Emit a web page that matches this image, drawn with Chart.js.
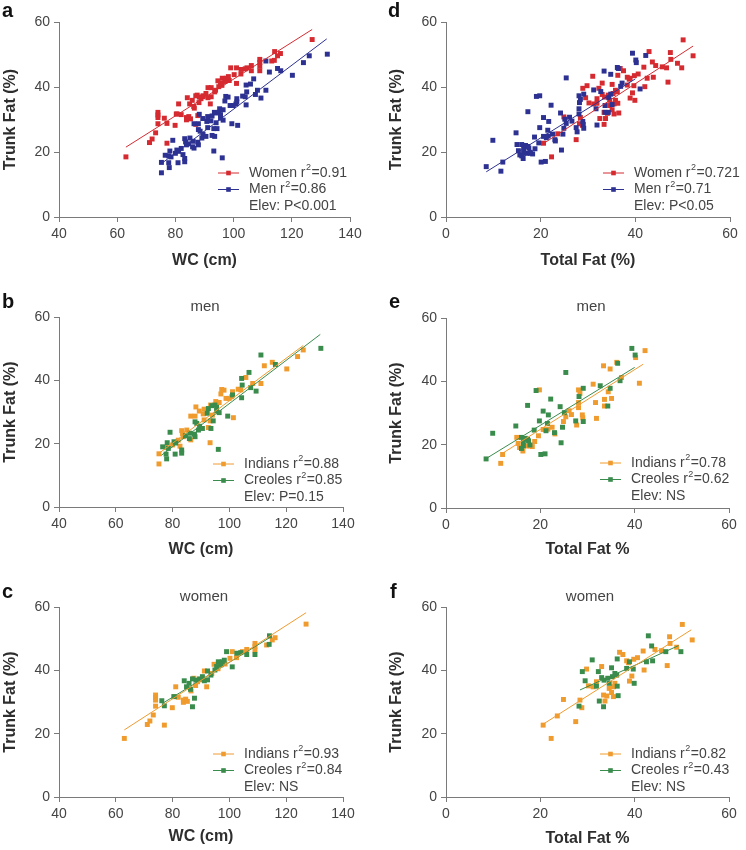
<!DOCTYPE html>
<html>
<head>
<meta charset="utf-8">
<script src="https://cdn.jsdelivr.net/npm/chart.js@4/dist/chart.umd.min.js"></script>
<style>
  body { margin: 0; background: #fff; }
  #wrap { position: relative; width: 746px; height: 850px; background: #fff; }
  canvas { position: absolute; }
</style>
</head>
<body>
<div id="wrap">
  <canvas id="pa" width="373" height="280" style="left:0;top:0"></canvas>
  <canvas id="pd" width="373" height="280" style="left:373px;top:0"></canvas>
  <canvas id="pb" width="373" height="280" style="left:0;top:280px"></canvas>
  <canvas id="pe" width="373" height="280" style="left:373px;top:280px"></canvas>
  <canvas id="pc" width="373" height="290" style="left:0;top:560px"></canvas>
  <canvas id="pf" width="373" height="290" style="left:373px;top:560px"></canvas>
</div>
<script>
// tick values
var wcTicks = [40, 60, 80, 100, 120, 140];
var totalFatTicks = [0, 20, 40, 60];
var trunkFatTicks = [0, 20, 40, 60];

// men, WC vs trunk fat
var menIndiansWC = [[75.2,13.6],[75.2,16.8],[77.7,18.8],[80.0,19.6],[82.0,21.1],[82.6,19.2],[83.2,24.1],[83.5,23.1],
  [83.8,22.2],[85.0,24.3],[86.4,21.2],[86.4,28.7],[87.9,28.7],[88.2,31.6],[89.4,30.3],[90.8,29.4],[91.1,30.9],
  [91.1,27.5],[92.6,25.1],[93.2,27.2],[93.2,20.3],[93.4,32.2],[94.0,29.0],[95.2,33.3],[96.4,33.0],[97.0,35.7],
  [97.3,37.1],[98.1,36.9],[98.8,34.3],[99.9,34.3],[100.8,34.8],[101.1,36.4],[101.4,28.2],[103.1,37.2],[104.0,37.0],
  [105.8,40.9],[108.2,39.0],[111.1,39.0],[112.3,44.6],[115.1,45.7],[120.2,43.6],[124.0,47.5],[126.0,49.6]];
var menCreolesWC = [[76.5,19.0],[77.7,16.7],[77.9,15.2],[78.1,20.3],[78.5,18.5],[79.1,23.6],[80.5,20.6],[80.9,16.7],
  [81.1,20.2],[83.2,18.0],[83.2,17.0],[84.5,22.5],[85.9,21.6],[86.1,23.3],[87.7,23.0],[87.9,22.2],[87.9,26.9],
  [88.5,26.4],[89.1,24.3],[89.5,25.5],[90.5,24.8],[92.2,29.6],[92.6,31.1],[93.5,24.8],[93.8,32.0],[94.3,27.2],
  [94.9,32.2],[95.5,30.4],[95.5,31.5],[96.4,29.8],[96.1,18.2],[99.4,28.7],[101.1,35.4],[104.3,34.5],[104.3,40.6],
  [104.5,38.5],[106.9,42.5],[107.5,37.7],[109.4,36.6],[111.1,48.0],[116.2,45.0],[132.2,50.1]];

// women, WC vs trunk fat
var womenIndiansWC = [[63.0,18.5],[71.1,22.9],[72.0,24.0],[73.2,25.9],[74.0,28.7],[74.0,30.6],[74.0,31.4],[74.0,32.2],
  [77.1,22.7],[79.9,28.2],[80.3,31.7],[81.1,34.8],[82.0,31.5],[83.8,30.6],[83.8,29.9],[84.6,30.9],[85.2,30.2],
  [86.5,33.5],[87.5,37.5],[88.1,35.2],[88.8,36.4],[89.5,37.0],[91.2,39.8],[92.0,34.8],[93.8,39.0],[94.6,41.9],
  [96.0,40.5],[98.5,42.0],[100.2,43.8],[101.0,45.9],[102.5,44.0],[104.6,45.9],[106.1,46.6],[109.0,48.5],[109.0,47.5],
  [109.0,46.4],[113.1,48.0],[115.1,49.6],[116.1,50.3],[127.0,54.6]];
var womenCreolesWC = [[76.2,30.4],[77.1,28.8],[80.6,31.7],[84.1,36.7],[84.9,34.8],[85.8,35.9],[86.3,34.0],[87.0,37.3],
  [87.0,28.5],[87.7,31.2],[88.2,36.9],[89.5,37.3],[90.5,38.0],[91.2,36.7],[92.3,37.0],[92.3,39.8],[93.5,38.5],
  [94.9,40.1],[95.5,41.2],[96.1,42.7],[97.0,41.7],[97.5,42.7],[98.2,43.2],[99.0,45.9],[101.0,41.1],[102.6,45.4],
  [104.0,45.6],[106.1,45.0],[109.0,45.0],[114.0,48.2],[114.1,50.9]];

// men, total fat vs trunk fat
var menIndiansTF = [[11.6,14.1],[12.0,16.9],[15.0,22.3],[15.3,20.4],[15.6,19.1],[16.3,18.0],[17.1,19.6],[17.8,19.6],
  [18.3,19.4],[18.8,21.0],[19.8,37.3],[19.6,22.8],[20.6,24.8],[21.6,24.9],[22.5,25.5],[23.1,23.4],[24.9,27.3],
  [25.4,28.8],[26.1,30.7],[26.6,29.5],[27.7,26.2],[28.1,37.3],[28.4,36.2],[28.1,33.3],[28.1,31.7],[28.9,29.4],
  [29.0,28.5],[31.2,39.1],[31.9,28.3],[31.7,33.3],[33.4,44.9],[33.6,34.3],[33.6,32.2],[34.4,36.7],[34.8,43.9],
  [35.1,34.6],[36.2,46.0],[37.2,41.2],[40.2,47.5],[41.0,39.4],[42.2,49.7]];
var menCreolesTF = [[8.5,15.5],[9.9,23.6],[14.8,25.9],[16.0,22.3],[16.8,22.0],[17.3,21.7],[16.4,20.9],[17.5,21.2],
  [16.4,19.6],[16.0,18.8],[17.8,19.9],[17.3,32.4],[18.7,24.6],[19.1,37.1],[19.8,27.5],[20.1,16.9],[20.6,30.6],
  [21.0,17.1],[21.2,24.4],[21.5,26.7],[21.7,29.4],[22.2,34.4],[23.0,23.8],[24.2,32.0],[24.4,20.6],[24.7,25.5],
  [25.1,30.1],[25.4,42.8],[27.5,27.5],[28.2,35.2],[29.1,37.8],[29.1,27.3],[32.7,38.6],[34.3,32.2],[34.8,37.8],
  [36.4,45.7],[36.9,40.2],[39.4,50.4],[40.1,48.3]];

// women, total fat vs trunk fat
var womenIndiansTF = [[20.6,22.7],[22.3,18.5],[23.6,25.6],[24.9,30.8],[27.5,23.8],[28.4,30.6],[28.8,28.2],[29.8,40.4],
  [30.2,35.1],[31.2,34.8],[31.9,36.4],[33.0,41.2],[33.4,32.2],[33.7,30.3],[34.1,31.9],[34.6,34.3],[35.1,33.0],
  [35.5,34.8],[35.5,31.7],[35.8,35.9],[36.8,45.7],[37.5,45.0],[38.3,43.0],[38.7,42.4],[38.9,36.6],[39.4,38.2],
  [39.8,43.5],[40.6,44.0],[41.8,46.1],[42.0,40.1],[44.3,46.6],[45.7,46.2],[46.9,41.5],[47.4,50.6],[47.5,48.5],
  [48.9,47.3],[50.1,54.5],[52.2,49.6]];
var womenCreolesTF = [[28.2,28.7],[28.9,39.6],[29.5,36.7],[31.0,43.3],[31.9,35.0],[32.3,39.6],[32.5,30.3],[33.0,37.7],
  [33.4,28.5],[33.5,36.9],[34.3,37.5],[34.6,35.9],[35.1,40.8],[35.3,38.0],[35.8,39.0],[36.2,38.5],[36.3,43.6],
  [36.3,35.0],[36.5,32.0],[38.3,40.6],[38.9,42.7],[39.7,40.4],[39.9,35.9],[42.5,42.7],[42.9,50.9],[43.6,47.7],
  [43.8,43.0],[46.6,45.9],[49.8,45.9]];

// regression line end points
var fitA = [[[63,21.5],[127,57.7]], [[75,16.3],[132,54.8]]];
var fitB = [[[75,16.8],[126,51.0]], [[76,16.3],[132,54.5]]];
var fitC = [[[63,21.2],[127,58.2]], [[76.5,29.6],[114.5,50.5]]];
var fitD = [[[20.6,22.6],[52.2,52.6]], [[8.5,13.9],[40,42.5]]];
var fitE = [[[11.7,17.0],[41.8,45.4]], [[8.5,15.6],[40,44.4]]];
var fitF = [[[20.6,23.0],[52,52.8]], [[28.4,33.8],[49.3,47.8]]];

// r squared and elevation test per panel
var r2A = ['0.91', '0.86'], elevA = 'P<0.001';
var r2B = ['0.88', '0.85'], elevB = 'P=0.15';
var r2C = ['0.93', '0.84'], elevC = 'NS';
var r2D = ['0.721', '0.71'], elevD = 'P<0.05';
var r2E = ['0.78', '0.62'], elevE = 'NS';
var r2F = ['0.82', '0.43'], elevF = 'NS';

var FONT = "'Liberation Sans', Arial, Helvetica, sans-serif";
Chart.defaults.font.family = FONT;

var red = '#d52a30', blue = '#2c3192', orange = '#f09b2e', green = '#3a8c4d';
var axisCol = '#7a7a7a', textCol = '#444', titleCol = '#2e2e2e';

function decorPlugin(p) {
  return {
    id: 'decor',
    afterDraw: function(chart) {
      var ctx = chart.ctx, b = p.box;
      ctx.save();
      ctx.fillStyle = '#111';
      ctx.font = 'bold 20px ' + FONT;
      ctx.textAlign = 'left';
      ctx.textBaseline = 'alphabetic';
      ctx.fillText(p.letter, b.letX, b.letY);
      if (p.sub) {
        ctx.fillStyle = textCol;
        ctx.font = '15px ' + FONT;
        ctx.textAlign = 'center';
        ctx.textBaseline = 'middle';
        ctx.fillText(p.sub, b.subX, b.subY);
      }
      ctx.textAlign = 'left';
      ctx.textBaseline = 'middle';
      var step = 16.5;
      p.sets.forEach(function(s, i) {
        var y = b.legY + i * step;
        ctx.strokeStyle = s.color;
        ctx.lineWidth = 1;
        ctx.beginPath();
        ctx.moveTo(b.legX, y);
        ctx.lineTo(b.legX + 21, y);
        ctx.stroke();
        ctx.fillStyle = s.color;
        ctx.fillRect(b.legX + 10.5 - 2.3, y - 2.3, 4.6, 4.6);
        ctx.fillStyle = textCol;
        ctx.font = '14px ' + FONT;
        var x = b.legX + 31;
        var t1 = s.label + ' r';
        ctx.fillText(t1, x, y);
        x += ctx.measureText(t1).width + 0.5;
        ctx.font = '9px ' + FONT;
        ctx.fillText('2', x, y - 5);
        x += ctx.measureText('2').width + 0.5;
        ctx.font = '14px ' + FONT;
        ctx.fillText('=' + s.r2, x, y);
      });
      ctx.fillStyle = textCol;
      ctx.font = '14px ' + FONT;
      ctx.fillText('Elev: ' + p.elev, b.legX + 31, b.legY + 2 * step);
      ctx.restore();
    }
  };
}

function axis(ticks, title, titlePad, fitFn) {
  return {
    type: 'linear',
    min: ticks[0],
    max: ticks[ticks.length - 1],
    afterBuildTicks: function(s) { s.ticks = ticks.map(function(v) { return { value: v }; }); },
    afterFit: fitFn,
    ticks: { color: textCol, font: { size: 14 }, padding: 4, autoSkip: false, maxRotation: 0 },
    grid: { drawOnChartArea: false, drawTicks: true, tickLength: 5, color: axisCol },
    border: { display: true, color: axisCol, width: 1 },
    title: { display: true, text: title, color: titleCol, font: { size: 16, weight: 'bold' }, padding: titlePad }
  };
}

function makePanel(id, p) {
  var b = p.box;
  var datasets = [];
  p.sets.forEach(function(s, i) {
    datasets.push({
      label: s.label,
      data: s.pts,
      backgroundColor: s.color,
      borderWidth: 0,
      pointStyle: 'rect',
      pointRadius: 3.5,
      order: 2 - i
    });
    datasets.push({
      label: s.label + ' fit',
      data: s.fit,
      showLine: true,
      borderColor: s.color,
      borderWidth: 1,
      pointRadius: 0,
      order: 0
    });
  });
  new Chart(document.getElementById(id), {
    type: 'scatter',
    data: { datasets: datasets },
    options: {
      responsive: false,
      animation: false,
      layout: { padding: { left: 0, top: b.padTop, right: b.padRight, bottom: 0 } },
      plugins: { legend: { display: false }, tooltip: { enabled: false } },
      scales: {
        x: axis(p.xTicks, p.xTitle, { top: 0, bottom: b.xTitlePad }, function(s) { s.height = b.xh; }),
        y: axis(trunkFatTicks, 'Trunk Fat (%)', { top: b.yTitlePad, bottom: 0 }, function(s) { s.width = b.yw; })
      }
    },
    plugins: [decorPlugin(p)]
  });
}

makePanel('pa', {
  letter: 'a', xTicks: wcTicks, xTitle: 'WC (cm)', elev: elevA,
  sets: [
    { label: 'Women', r2: r2A[0], color: red, pts: womenIndiansWC.concat(womenCreolesWC), fit: fitA[0] },
    { label: 'Men', r2: r2A[1], color: blue, pts: menIndiansWC.concat(menCreolesWC), fit: fitA[1] }
  ],
  box: { padTop: 22, padRight: 23, yw: 59, xh: 63, yTitlePad: 1, xTitlePad: 10,
         legX: 218, legY: 173, letX: 2, letY: 17 }
});
makePanel('pd', {
  letter: 'd', xTicks: totalFatTicks, xTitle: 'Total Fat (%)', elev: elevD,
  sets: [
    { label: 'Women', r2: r2D[0], color: red, pts: womenIndiansTF.concat(womenCreolesTF), fit: fitD[0] },
    { label: 'Men', r2: r2D[1], color: blue, pts: menIndiansTF.concat(menCreolesTF), fit: fitD[1] }
  ],
  box: { padTop: 22, padRight: 16, yw: 73, xh: 63, yTitlePad: 14, xTitlePad: 10,
         legX: 230, legY: 173, letX: 15, letY: 17 }
});
makePanel('pb', {
  letter: 'b', sub: 'men', xTicks: wcTicks, xTitle: 'WC (cm)', elev: elevB,
  sets: [
    { label: 'Indians', r2: r2B[0], color: orange, pts: menIndiansWC, fit: fitB[0] },
    { label: 'Creoles', r2: r2B[1], color: green, pts: menCreolesWC, fit: fitB[1] }
  ],
  box: { padTop: 37, padRight: 30, yw: 59, xh: 53, yTitlePad: 1, xTitlePad: 1,
         legX: 213, legY: 184, subX: 205, subY: 27, letX: 2, letY: 28 }
});
makePanel('pe', {
  letter: 'e', sub: 'men', xTicks: totalFatTicks, xTitle: 'Total Fat %', elev: elevE,
  sets: [
    { label: 'Indians', r2: r2E[0], color: orange, pts: menIndiansTF, fit: fitE[0] },
    { label: 'Creoles', r2: r2E[1], color: green, pts: menCreolesTF, fit: fitE[1] }
  ],
  box: { padTop: 38, padRight: 17, yw: 73, xh: 52, yTitlePad: 14, xTitlePad: 1,
         legX: 227, legY: 183, subX: 218, subY: 27, letX: 16, letY: 28 }
});
makePanel('pc', {
  letter: 'c', sub: 'women', xTicks: wcTicks, xTitle: 'WC (cm)', elev: elevC,
  sets: [
    { label: 'Indians', r2: r2C[0], color: orange, pts: womenIndiansWC, fit: fitC[0] },
    { label: 'Creoles', r2: r2C[1], color: green, pts: womenCreolesWC, fit: fitC[1] }
  ],
  box: { padTop: 47, padRight: 30, yw: 59, xh: 53, yTitlePad: 1, xTitlePad: 4,
         legX: 213, legY: 194, subX: 204, subY: 37, letX: 2, letY: 38 }
});
makePanel('pf', {
  letter: 'f', sub: 'women', xTicks: totalFatTicks, xTitle: 'Total Fat %', elev: elevF,
  sets: [
    { label: 'Indians', r2: r2F[0], color: orange, pts: womenIndiansTF, fit: fitF[0] },
    { label: 'Creoles', r2: r2F[1], color: green, pts: womenCreolesTF, fit: fitF[1] }
  ],
  box: { padTop: 47, padRight: 17, yw: 73, xh: 53, yTitlePad: 14, xTitlePad: 2,
         legX: 227, legY: 194, subX: 217, subY: 37, letX: 17, letY: 38 }
});
</script>
</body>
</html>
